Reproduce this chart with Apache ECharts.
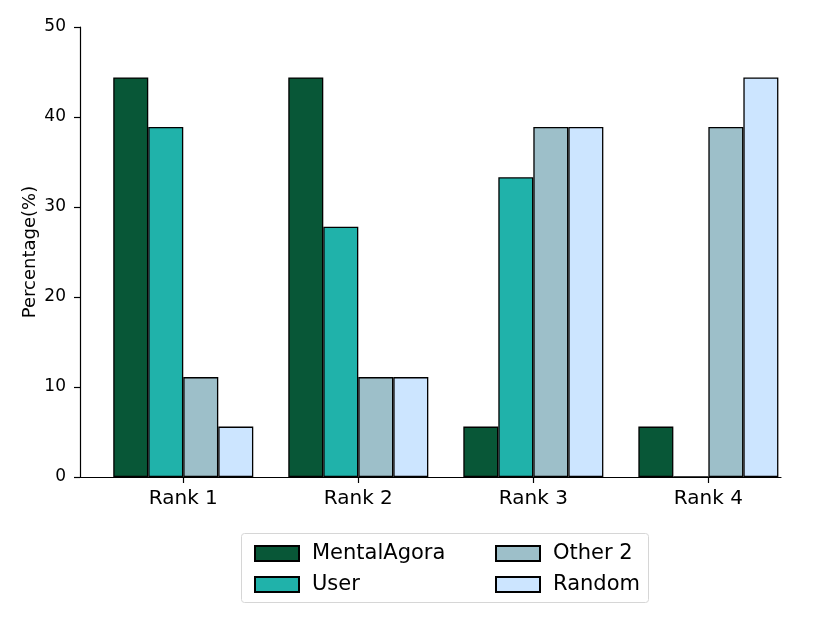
<!DOCTYPE html>
<html>
<head>
<meta charset="utf-8">
<script src="https://cdn.jsdelivr.net/npm/echarts@6/dist/echarts.min.js"></script>
<style>
  html, body { margin: 0; padding: 0; background: #fff; }
  #chart { width: 830px; height: 623px; }
</style>
</head>
<body>
<div id="chart"></div>
<script>
// data
var categories = ['Rank 1', 'Rank 2', 'Rank 3', 'Rank 4'];
var mentalAgora = [44.4, 44.4, 5.6, 5.6];
var user = [38.9, 27.8, 33.3, 0];
var other2 = [11.1, 11.1, 38.9, 38.9];
var randomSel = [5.6, 11.1, 38.9, 44.4];
var yTicks = [0, 10, 20, 30, 40, 50];

var seriesNames = ['MentalAgora', 'User', 'Other 2', 'Random'];
var seriesData = [mentalAgora, user, other2, randomSel];
var seriesColors = ['#085737', '#20b2aa', '#9dbfc9', '#cce5ff'];

var font = 'DejaVu Sans';
var catPos = categories.map(function (c, i) { return i; });

var chart = echarts.init(document.getElementById('chart'), null, { renderer: 'canvas' });

var series = seriesNames.map(function (name, i) {
  return {
    name: name,
    type: 'bar',
    data: seriesData[i].map(function (v, j) { return [catPos[j], v]; }),
    barGap: '0%',
    barCategoryGap: '20%',
    itemStyle: { color: seriesColors[i], borderColor: '#000', borderWidth: 1.3 },
    emphasis: { disabled: true },
    animation: false
  };
});

var legendBase = {
  orient: 'vertical',
  top: 538,
  icon: 'rect',
  itemWidth: 44,
  itemHeight: 15,
  itemGap: 10,
  textStyle: { fontFamily: font, fontSize: 21, color: '#000', lineHeight: 21, padding: [0, 0, 0, 8] },
  selectedMode: false
};

var option = {
  animation: false,
  grid: { left: 80, right: 49, top: 27, bottom: 146, containLabel: false },
  xAxis: {
    type: 'value',
    min: -0.59,
    max: 3.415,
    axisLine: { show: true, onZero: false, lineStyle: { color: '#000', width: 1.2 } },
    axisTick: { show: true, customValues: catPos, length: 6, lineStyle: { color: '#000', width: 1.2 } },
    axisLabel: {
      customValues: catPos,
      formatter: function (v) { return categories[Math.round(v)]; },
      fontFamily: font, fontSize: 20, color: '#000', margin: 12
    },
    splitLine: { show: false }
  },
  yAxis: {
    type: 'value',
    min: yTicks[0],
    max: yTicks[yTicks.length - 1],
    interval: 10,
    name: 'Percentage(%)',
    nameLocation: 'middle',
    nameGap: 41,
    nameMoveOverlap: false,
    nameTextStyle: { fontFamily: font, fontSize: 18, color: '#000' },
    axisLine: { show: true, onZero: false, lineStyle: { color: '#000', width: 1.2 } },
    axisTick: { show: true, length: 6, lineStyle: { color: '#000', width: 1.2 } },
    axisLabel: { fontFamily: font, fontSize: 17, color: '#000', margin: 14 },
    splitLine: { show: false }
  },
  legend: [
    Object.assign({ data: ['MentalAgora', 'User'], left: 249 }, legendBase),
    Object.assign({ data: ['Other 2', 'Random'], left: 490 }, legendBase)
  ],
  graphic: [{
    type: 'rect',
    shape: { x: 241.5, y: 533.5, width: 407, height: 69, r: 3 },
    style: { fill: 'none', stroke: '#d6d6d6', lineWidth: 1 },
    z: -1
  }],
  series: series
};

chart.setOption(option);
</script>
</body>
</html>
